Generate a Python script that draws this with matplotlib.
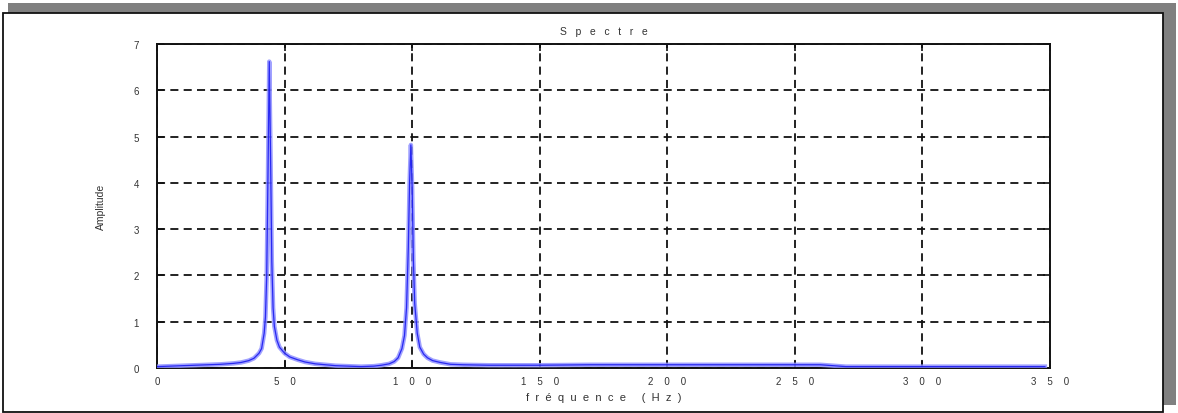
import matplotlib
matplotlib.use("Agg")
import matplotlib.pyplot as plt
from matplotlib.patches import Rectangle

# Spectrum samples: frequency (Hz) and amplitude
freq = [0, 5, 10, 15, 20, 25, 30, 33, 36, 38, 40, 41, 42, 42.5, 43, 43.5, 44,
        44.5, 45, 45.5, 46, 47, 48, 50, 52, 55, 58, 62, 66, 70, 75, 80, 85, 88,
        91, 93, 94.5, 96, 97, 97.8, 98.5, 99, 99.5, 100, 100.5, 101, 102, 103,
        104.5, 106, 108, 111, 115, 120, 130, 140, 150, 170, 200, 230, 260, 270,
        290, 320, 348]
amplitude = [0.03, 0.04, 0.05, 0.06, 0.07, 0.08, 0.10, 0.12, 0.16, 0.21, 0.32,
             0.42, 0.75, 1.1, 2.0, 4.2, 6.62, 4.6, 2.3, 1.3, 0.9, 0.6, 0.45,
             0.32, 0.24, 0.18, 0.13, 0.09, 0.07, 0.05, 0.04, 0.03, 0.04, 0.06,
             0.09, 0.14, 0.22, 0.42, 0.7, 1.3, 2.6, 4.0, 4.82, 3.9, 2.3, 1.4,
             0.75, 0.45, 0.3, 0.22, 0.16, 0.12, 0.08, 0.07, 0.06, 0.06, 0.06,
             0.07, 0.07, 0.07, 0.07, 0.03, 0.03, 0.03, 0.03]

x_ticks = [0, 50, 100, 150, 200, 250, 300, 350]
y_ticks = [0, 1, 2, 3, 4, 5, 6, 7]

title_text = "Spectre"
x_label = "fréquence (Hz)"
y_label = "Amplitude"


def spaced(s, gap):
    # wide letter spacing, as in the printed figure
    return (" " * gap).join(str(s))


W, H = 1178, 414
plt.rcParams["font.family"] = ["Liberation Sans", "DejaVu Sans"]
plt.rcParams["lines.scale_dashes"] = False

fig = plt.figure(figsize=(W / 100, H / 100), dpi=100)
fig.patch.set_facecolor("white")


def px_rect(x0, y0, x1, y1, **kw):
    # rectangle given in pixel coordinates measured from the top-left corner
    return Rectangle((x0 / W, 1 - y1 / H), (x1 - x0) / W, (y1 - y0) / H,
                     transform=fig.transFigure, figure=fig, **kw)


# drop shadow and page frame
fig.patches.append(px_rect(7.5, 4, 1176, 406, facecolor="#808080",
                           edgecolor="none", zorder=0))
fig.patches.append(px_rect(3, 14, 1162.5, 412.5, facecolor="white",
                           edgecolor="#111111", linewidth=1.3, zorder=1))

ax = fig.add_axes([157 / W, 1 - 369 / H, (1050 - 157) / W, (369 - 45) / H])
ax.set_zorder(2)
ax.set_facecolor("white")

ax.plot(freq, amplitude, color="#8f91ff", linewidth=3.2, alpha=0.85,
        solid_joinstyle="round", zorder=3)
ax.plot(freq, amplitude, color="#1414f0", linewidth=0.9, alpha=0.85, zorder=4)

ax.set_xlim(0, 350)
ax.set_ylim(0, 7)
ax.set_xticks(x_ticks)
ax.set_yticks(y_ticks)
ax.set_xticklabels([spaced(v, 4) for v in x_ticks], fontsize=7, color="#333333")
ax.set_yticklabels([str(v) for v in y_ticks], fontsize=7, color="#333333")
ax.tick_params(direction="in", length=5, width=1.2, top=True, right=True,
               colors="#111111", labelcolor="#333333")
ax.tick_params(axis="x", pad=6)
ax.tick_params(axis="y", pad=13)

ax.grid(True, color="#111111", linewidth=1.3, linestyle=(0, (5.8, 3.8)))
for s in ax.spines.values():
    s.set_linewidth(1.4)
    s.set_color("#111111")

ax.set_title(spaced(title_text, 3), fontsize=7.5, color="#333333", pad=7)
ax.set_xlabel(spaced(x_label, 2), fontsize=8, color="#333333", labelpad=4)
ax.set_ylabel(y_label, fontsize=7.5, color="#333333", labelpad=20)

fig.savefig("out.png", dpi=100)
